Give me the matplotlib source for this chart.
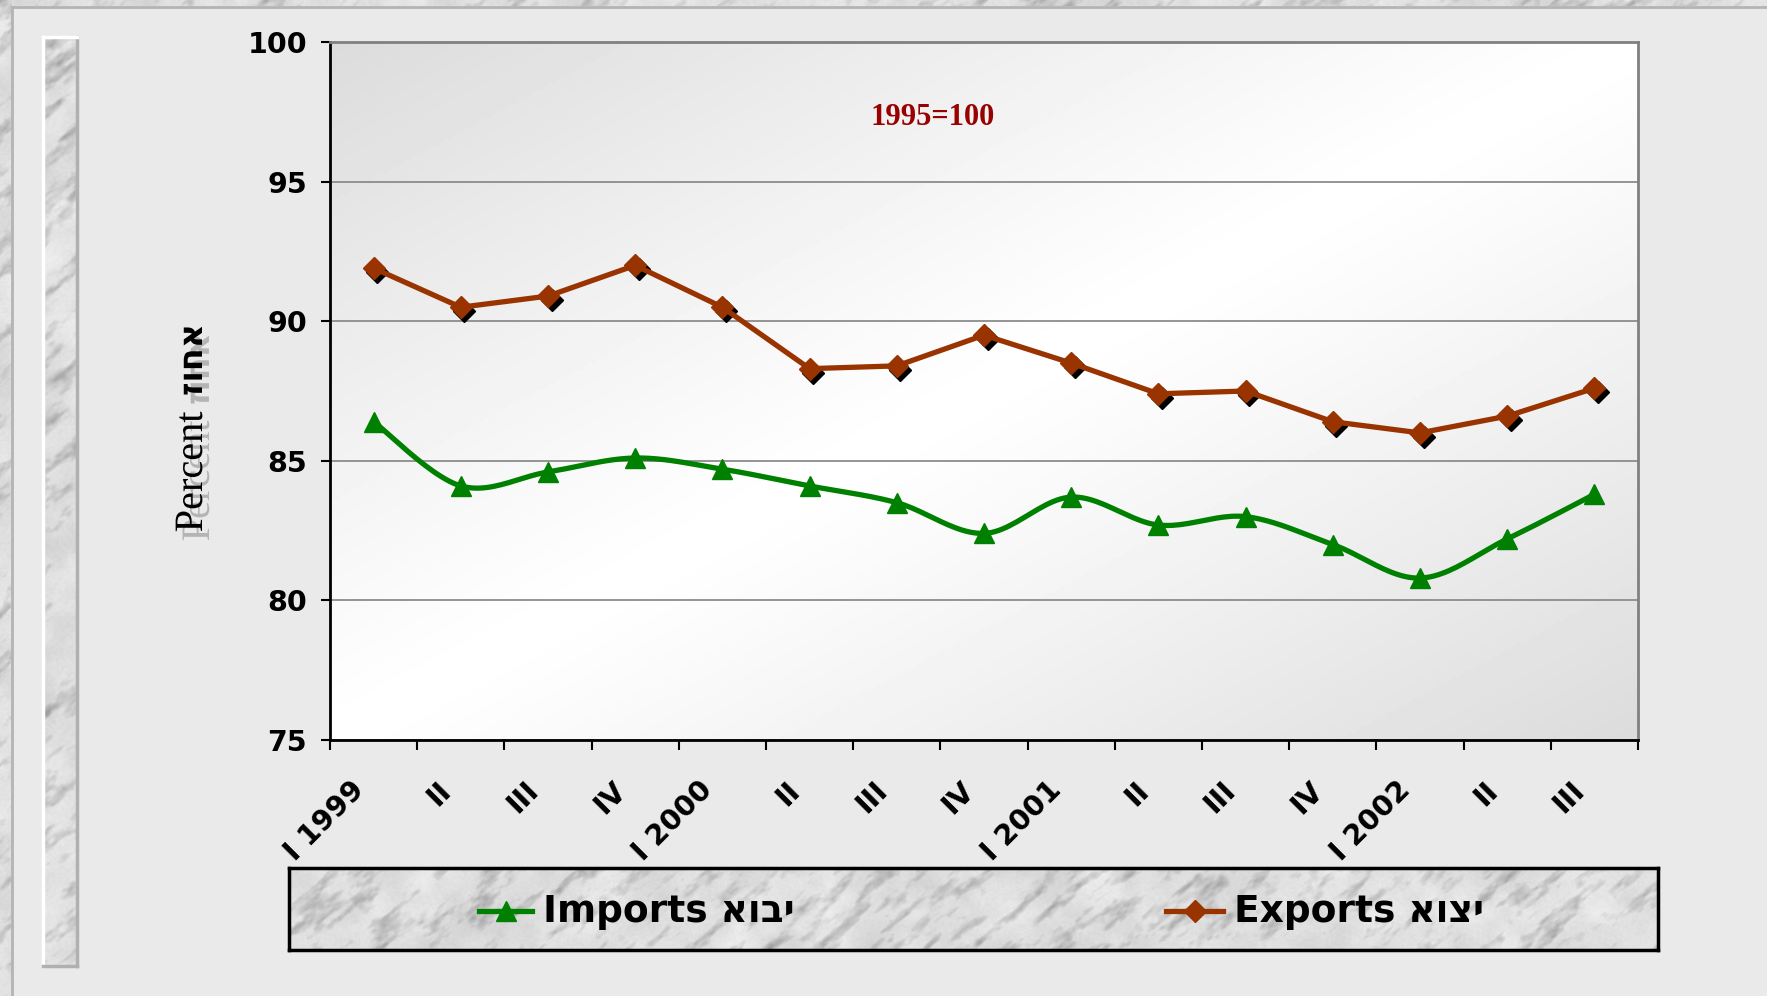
import numpy as np
import matplotlib
matplotlib.use("Agg")
import matplotlib.pyplot as plt
import matplotlib.patheffects as pe
from matplotlib import transforms
from matplotlib.lines import Line2D

# Quarterly terms of trade indices, 1995=100
quarters = ["I 1999", "II", "III", "IV",
            "I 2000", "II", "III", "IV",
            "I 2001", "II", "III", "IV",
            "I 2002", "II", "III"]
imports = [86.4, 84.1, 84.6, 85.1, 84.7, 84.1, 83.5, 82.4,
           83.7, 82.7, 83.0, 82.0, 80.8, 82.2, 83.8]
exports = [91.9, 90.5, 90.9, 92.0, 90.5, 88.3, 88.4, 89.5,
           88.5, 87.4, 87.5, 86.4, 86.0, 86.6, 87.6]
y_ticks = [75, 80, 85, 90, 95, 100]

W, H = 1767, 996
GREEN = "#008000"
BROWN = "#993300"
PANEL = "#EAEAEA"
SANS = "DejaVu Sans"
SERIF = ["Liberation Serif", "DejaVu Serif", "DejaVu Sans"]
HEB = ["DejaVu Sans"]


def lattice(u, v, g):
    " smooth value noise sampled at (u, v)"
    n = g.shape[0]
    i0 = np.floor(u).astype(int)
    j0 = np.floor(v).astype(int)
    fu = u - i0
    fv = v - j0
    fu = fu * fu * (3 - 2 * fu)
    fv = fv * fv * (3 - 2 * fv)
    i0 %= n
    j0 %= n
    i1 = (i0 + 1) % n
    j1 = (j0 + 1) % n
    top = g[j0, i0] * (1 - fu) + g[j0, i1] * fu
    bot = g[j1, i0] * (1 - fu) + g[j1, i1] * fu
    return top * (1 - fv) + bot * fv


def marble(h, w, seed=0):
    " grey stone texture with soft diagonal veins, values in 0..1"
    rng = np.random.default_rng(seed)
    yy, xx = np.mgrid[0:h, 0:w].astype(float)
    ang = np.deg2rad(40)
    u = xx * np.cos(ang) - yy * np.sin(ang)
    v = xx * np.sin(ang) + yy * np.cos(ang)
    cloud = (0.6 * lattice(xx / 45, yy / 45, rng.random((64, 64)))
             + 0.4 * lattice(xx / 15, yy / 15, rng.random((64, 64))))
    vein = (0.5 * lattice(u / 40, v / 10, rng.random((64, 64)))
            + 0.3 * lattice(u / 16, v / 5, rng.random((64, 64)))
            + 0.2 * lattice(u / 6, v / 3, rng.random((64, 64))))
    speck = lattice(xx / 2.0, yy / 2.0, rng.random((64, 64)))
    val = (0.95 - 0.12 * cloud - 0.6 * np.clip(vein - 0.53, 0, None)
           - 0.03 * speck)
    return np.clip(val, 0, 1)


def catmull_rom(xs, ys, n=24):
    " smooth curve through the points (Excel style smoothing)"
    p = np.column_stack([xs, ys]).astype(float)
    p = np.vstack([p[0], p, p[-1]])
    t = np.linspace(0, 1, n, endpoint=False)[:, None]
    seg = []
    for i in range(1, len(p) - 2):
        p0, p1, p2, p3 = p[i - 1], p[i], p[i + 1], p[i + 2]
        c1 = p1 + (p2 - p0) / 6.0
        c2 = p2 - (p3 - p1) / 6.0
        seg.append((1 - t) ** 3 * p1 + 3 * (1 - t) ** 2 * t * c1
                   + 3 * (1 - t) * t ** 2 * c2 + t ** 3 * p2)
    seg.append(p[-2][None, :])
    c = np.vstack(seg)
    return c[:, 0], c[:, 1]


fig = plt.figure(figsize=(W / 100, H / 100), dpi=100)
fig.patch.set_facecolor(PANEL)


def fig_axes(x0, y0, x1, y1):
    " axes from pixel box (top-left origin)"
    return fig.add_axes([x0 / W, 1 - y1 / H, (x1 - x0) / W, (y1 - y0) / H])


# stone frame on top and left edge of the slide
for box, seed in [((0, 0, W, 6), 1), ((0, 0, 12, H), 2)]:
    a = fig_axes(*box)
    a.imshow(marble(box[3] - box[1], box[2] - box[0], seed), cmap="gray",
             vmin=0, vmax=1, aspect="auto", interpolation="bilinear")
    a.axis("off")
fig.add_artist(Line2D([12 / W, 1], [1 - 7 / H, 1 - 7 / H], color="#B4B4B4", lw=2))
fig.add_artist(Line2D([12 / W, 12 / W], [0, 1 - 7 / H], color="#B4B4B4", lw=2))

# vertical stone strip on the left
strip = fig_axes(43, 37, 77, 966)
strip.imshow(marble(929, 34, 3), cmap="gray", vmin=0, vmax=1, aspect="auto",
             interpolation="bilinear")
strip.set_xticks([])
strip.set_yticks([])
for side in ["top", "left"]:
    strip.spines[side].set_color("white")
for side in ["bottom", "right"]:
    strip.spines[side].set_color("#B0B0B0")
for s in strip.spines.values():
    s.set_linewidth(2.5)

# main chart
ax = fig_axes(330, 42, 1638, 740)
gx, gy = np.meshgrid(np.linspace(0, 1, 300), np.linspace(1, 0, 200))
s = (gx + (1 - gy)) / 2
grad = 1 - 0.14 * np.abs(2 * s - 1) ** 1.1
ax.imshow(grad, extent=[0, 1, 0, 1], transform=ax.transAxes, cmap="gray",
          vmin=0, vmax=1, aspect="auto", zorder=0)

x = np.arange(len(quarters))
sx, sy = catmull_rom(x, imports)
ax.plot(sx, sy, color=GREEN, lw=3.8, zorder=3, solid_capstyle="round")
ax.plot(x, imports, ls="none", marker="^", ms=15, color=GREEN, zorder=4)

shadow = transforms.offset_copy(ax.transData, fig=fig, x=3.5, y=-4, units="dots")
ax.plot(x, exports, ls="none", marker="D", ms=11, color="black",
        transform=shadow, zorder=3)
ax.plot(x, exports, color=BROWN, lw=3.8, marker="D", ms=11, zorder=4)

ax.set_xlim(-0.5, len(quarters) - 0.5)
ax.set_ylim(75, 100)
ax.set_yticks(y_ticks)
ax.set_yticklabels([str(v) for v in y_ticks], fontfamily=SANS,
                   fontweight="bold", fontsize=20.5)
ax.tick_params(axis="y", direction="out", length=6.5, width=1.5, pad=10)
ax.set_xticks(np.arange(len(quarters) + 1) - 0.5)
ax.set_xticklabels([])
ax.tick_params(axis="x", direction="out", length=7, width=1.5)
ax.grid(axis="y", color="#8C8C8C", lw=1.3, zorder=1)
ax.set_axisbelow(True)
for side in ["left", "bottom"]:
    ax.spines[side].set_color("black")
for side in ["top", "right"]:
    ax.spines[side].set_color("#808080")
for sp in ax.spines.values():
    sp.set_linewidth(2)
    sp.set_zorder(5)

# rotated quarter labels
xlab = transforms.blended_transform_factory(ax.transData, ax.transAxes)
for i, q in enumerate(quarters):
    ax.annotate(q, xy=(i, 0), xycoords=xlab, xytext=(-10, -33),
                textcoords="offset points", rotation=45, ha="right",
                va="center", rotation_mode="anchor", fontfamily=SANS,
                fontweight="bold", fontsize=20.5, annotation_clip=False)

ax.text(0.461, 0.892, "1995=100", transform=ax.transAxes, ha="center",
        va="center", color="#990000", fontfamily=SERIF, fontweight="bold",
        fontsize=22)

# axis title with a soft drop shadow
drop = [pe.withSimplePatchShadow(offset=(5, -6.5), shadow_rgbFace="#B4B4B4",
                                 alpha=1.0)]
fig.text(202 / W, 1 - 472 / H, "Percent", rotation=90, ha="center",
         va="baseline", rotation_mode="anchor", fontfamily=SERIF,
         fontsize=29, path_effects=drop)
fig.text(202 / W, 1 - 360 / H, "זוחא", rotation=90, ha="center",
         va="baseline", rotation_mode="anchor", fontfamily=HEB,
         fontweight="bold", fontsize=24, path_effects=drop)

# legend panel
leg = fig_axes(289, 868, 1658, 950)
leg.imshow(marble(82, 1369, 4), cmap="gray", vmin=0, vmax=1, aspect="auto",
           extent=[289, 1658, 950, 868], interpolation="bilinear")
leg.set_xlim(289, 1658)
leg.set_ylim(950, 868)
leg.set_xticks([])
leg.set_yticks([])
for sp in leg.spines.values():
    sp.set_color("black")
    sp.set_linewidth(2.5)
entries = [("Imports אובי", GREEN, "^", 15, 479, 532),
           ("Exports אוצי", BROWN, "D", 11, 1166, 1223)]
for label, col, mk, ms, x0, x1 in entries:
    leg.plot([x0, (x0 + x1) / 2, x1], [911, 911, 911], color=col, lw=3.8,
             marker=mk, ms=ms, markevery=[1])
    leg.text(x1 + 11, 912, label, ha="left", va="center", fontfamily=SANS,
             fontweight="bold", fontsize=27)

fig.savefig("out.png", dpi=100, facecolor=fig.get_facecolor())
